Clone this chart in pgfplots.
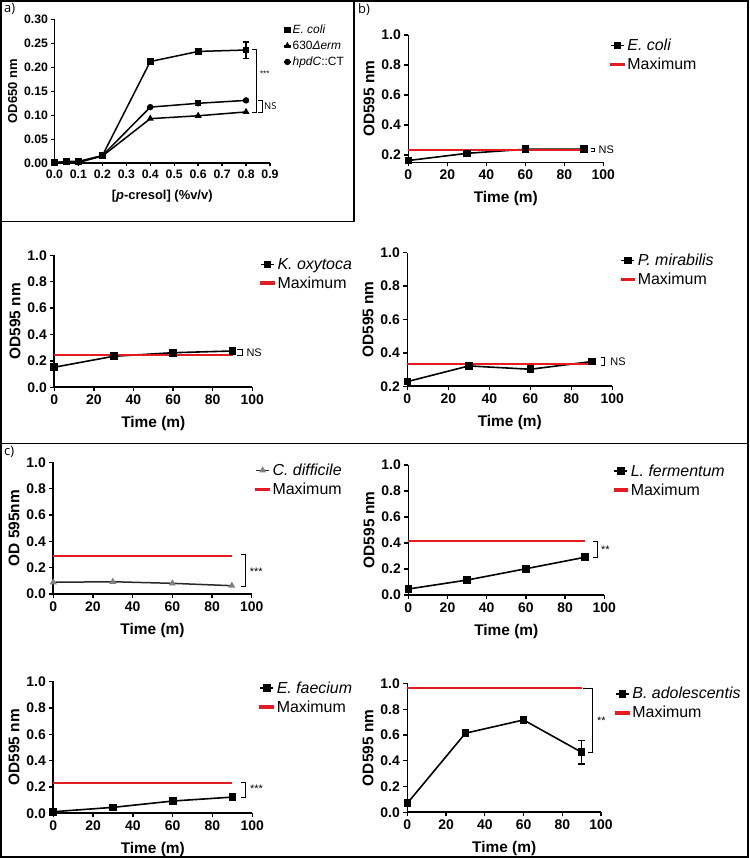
\documentclass[border=0pt]{standalone}
\usepackage{pgfplots}
\pgfplotsset{compat=1.18}
\usepackage{fontspec}
\setmainfont{Liberation Sans}
\newfontfamily\osans{Open Sans}
\definecolor{gpred}{RGB}{228,28,34}
\definecolor{gpgrey}{RGB}{40,40,40}
\tikzset{
  br/.style={line width=0.9bp, black},
  sig/.style={font=\fontsize{11}{11}\selectfont, anchor=west, inner sep=1bp},
}
\pgfplotsset{
  gp/.style={
    scale only axis, axis lines=left, axis line style={-, line width=1.6bp},
    tick align=outside, major tick length=4bp, tick style={line width=1.4bp, black},
    clip=false, /pgf/number format/assume math mode=true,
    ticklabel style={font=\bfseries\fontsize{14}{14}\selectfont},
    label style={font=\bfseries\fontsize{15.5}{16}\selectfont},
    xlabel style={yshift=-5bp},
    xmin=0, xmax=100, xtick={0,20,40,60,80,100},
    ytick={0,0.2,0.4,0.6,0.8,1.0}, ymax=1.0,
    yticklabel style={/pgf/number format/.cd, fixed, fixed zerofill, precision=1},
    legend style={draw=none, fill=none, font=\fontsize{16}{16}\selectfont, inner sep=0pt, row sep=4bp, nodes={inner sep=1bp}, anchor=west},
    legend cell align=left,
    xlabel={Time (m)}, ylabel={OD595 nm},
    every axis plot/.append style={line width=1.6bp},
    legend image code/.code={\draw[mark repeat=2,mark phase=2] plot coordinates {(0bp,0bp) (6.5bp,0bp) (13bp,0bp)};\path (14.5bp,0bp);},
  },
  sq/.style={black, mark=square*, mark size=3bp, mark options={solid}},
  mx/.style={gpred, no marks, line width=1.8bp,
    legend image code/.code={\fill[gpred] (0bp,-1bp) rectangle (13bp,1bp);\path (14.5bp,0bp);}},
}
\begin{document}
\begin{tikzpicture}
\useasboundingbox (0,0) rectangle (750bp,858bp);
% frames
\draw[line width=1.5bp] (1bp,1bp) rectangle (748bp,857bp);
\draw[line width=1.5bp] (354bp,857bp) -- (354bp,636.3bp) -- (1bp,636.3bp);
\draw[line width=1.5bp] (1bp,414.7bp) -- (748bp,414.7bp);
\node[anchor=north west, font=\osans\fontsize{13}{13}\selectfont, inner sep=0pt] at (4bp,855bp) {a)};
\node[anchor=north west, font=\osans\fontsize{13}{13}\selectfont, inner sep=0pt] at (358bp,855bp) {b)};
\node[anchor=north west, font=\osans\fontsize{13}{13}\selectfont, inner sep=0pt] at (4bp,412bp) {c)};

% ---------- panel a ----------
\begin{axis}[gp, at={(54.5bp,694.7bp)}, anchor=south west, width=215.5bp, height=144bp,
  xmin=0, xmax=0.9, ymin=0, ymax=0.30,
  xtick={0,0.1,0.2,0.3,0.4,0.5,0.6,0.7,0.8,0.9}, ytick={0,0.05,0.10,0.15,0.20,0.25,0.30},
  major tick length=3bp,
  ticklabel style={font=\bfseries\fontsize{12.3}{12.3}\selectfont},
  xticklabel style={/pgf/number format/.cd, fixed, fixed zerofill, precision=1},
  yticklabel style={/pgf/number format/.cd, fixed, fixed zerofill, precision=2},
  label style={font=\bfseries\fontsize{13}{13}\selectfont},
  xlabel style={yshift=0bp},
  xlabel={[\textit{p}-cresol] (\%v/v)}, ylabel={OD650 nm},
  legend style={font=\fontsize{12}{12}\selectfont, row sep=4bp, at={(1.06,0.815)}},
  legend image code/.code={\draw[mark repeat=2,mark phase=2] plot coordinates {(0bp,0bp) (3.5bp,0bp) (7bp,0bp)};},
  every axis plot/.append style={line width=1.5bp},
  error bars/error bar style={line width=1.3bp},
  error bars/error mark options={rotate=90, mark size=2.8bp, line width=1.3bp}]
\addplot[black, mark=square*, mark size=2.6bp, error bars/.cd, y dir=both, y explicit] coordinates {
 (0,0.001) +- (0,0) (0.05,0.004) +- (0,0.001) (0.1,0.004) +- (0,0.001) (0.2,0.016) +- (0,0.002)
 (0.4,0.212) +- (0,0.004) (0.6,0.233) +- (0,0.002) (0.8,0.236) +- (0,0.017)};
\addlegendentry{\textit{E. coli}}
\addplot[black, mark=triangle*, mark size=2.6bp] coordinates {
 (0,0.001) (0.05,0.003) (0.1,0.002) (0.2,0.015) (0.4,0.093) (0.6,0.099) (0.8,0.107)};
\addlegendentry{630\textit{Δerm}}
\addplot[black, mark=*, mark size=2.4bp, error bars/.cd, y dir=both, y explicit] coordinates {
 (0,0.001) +- (0,0) (0.05,0.003) +- (0,0) (0.1,0.002) +- (0,0) (0.2,0.016) +- (0,0)
 (0.4,0.117) +- (0,0.002) (0.6,0.125) +- (0,0.005) (0.8,0.131) +- (0,0.002)};
\addlegendentry{\textit{hpdC}::CT}
\draw[line width=0.7bp] (axis cs:0.826,0.237) -- (axis cs:0.842,0.237) -- (axis cs:0.842,0.107) -- (axis cs:0.826,0.107);
\node[font=\fontsize{8}{8}\selectfont, anchor=west, inner sep=0pt] at (axis cs:0.858,0.187) {***};
\draw[line width=0.7bp] (axis cs:0.85,0.131) -- (axis cs:0.866,0.131) -- (axis cs:0.866,0.107) -- (axis cs:0.85,0.107);
\node[font=\osans\fontsize{9.5}{9.5}\selectfont, anchor=west, inner sep=0pt] at (axis cs:0.875,0.119) {NS};
\end{axis}

% ---------- b1: E. coli ----------
\begin{axis}[gp, at={(408.3bp,695.5bp)}, anchor=south west, width=195bp, height=127.5bp,
  ymin=0.15, ytick={0.2,0.4,0.6,0.8,1.0}, legend style={at={(1.034,0.843)}}]
\addplot[sq] coordinates {(0,0.163) (30,0.211) (60,0.238) (90,0.238)};
\addlegendentry{\textit{E. coli}}
\addplot[mx] coordinates {(0,0.231) (90,0.231)};
\addlegendentry{Maximum}
\draw[br] (axis cs:93.7,0.243) -- (axis cs:95.7,0.243) -- (axis cs:95.7,0.222) -- (axis cs:93.7,0.222);
\node[sig] at (axis cs:97,0.233) {NS};
\end{axis}

% ---------- K. oxytoca ----------
\begin{axis}[gp, at={(54.3bp,470.7bp)}, anchor=south west, width=198bp, height=132bp,
  ymin=0, legend style={at={(1.039,0.858)}}]
\addplot[sq] coordinates {(0,0.152) (30,0.235) (60,0.262) (90,0.275)};
\addlegendentry{\textit{K. oxytoca}}
\addplot[mx] coordinates {(0,0.247) (90,0.247)};
\addlegendentry{Maximum}
\draw[br] (axis cs:92.3,0.288) -- (axis cs:94.8,0.288) -- (axis cs:94.8,0.238) -- (axis cs:92.3,0.238);
\node[sig] at (axis cs:96.5,0.26) {NS};
\end{axis}

% ---------- P. mirabilis ----------
\begin{axis}[gp, at={(407.3bp,471.7bp)}, anchor=south west, width=205bp, height=133.6bp,
  ymin=0.2, ytick={0.2,0.4,0.6,0.8,1.0}, legend style={at={(1.039,0.871)}}]
\addplot[sq] coordinates {(0,0.228) (30,0.322) (60,0.302) (90,0.348)};
\addlegendentry{\textit{P. mirabilis}}
\addplot[mx] coordinates {(0,0.334) (90,0.334)};
\addlegendentry{Maximum}
\draw[br] (axis cs:94.5,0.37) -- (axis cs:96.4,0.37) -- (axis cs:96.4,0.322) -- (axis cs:94.5,0.322);
\node[sig] at (axis cs:98.5,0.346) {NS};
\end{axis}

% ---------- C. difficile ----------
\begin{axis}[gp, at={(53.3bp,264bp)}, anchor=south west, width=198.4bp, height=131.7bp,
  ymin=0, ylabel={OD 595nm}, legend style={at={(1.017,0.866)}}]
\addplot[gpgrey, line width=1.5bp, mark=triangle*, mark size=2.6bp, mark options={fill=gray, draw=gray}] coordinates {(0,0.089) (30,0.093) (60,0.081) (90,0.063)};
\addlegendentry{\textit{C. difficile}}
\addplot[mx] coordinates {(0,0.29) (90,0.29)};
\addlegendentry{Maximum}
\draw[br] (axis cs:94.6,0.30) -- (axis cs:97.1,0.30) -- (axis cs:97.1,0.061) -- (axis cs:94.6,0.061);
\node[sig] at (axis cs:98.5,0.17) {***};
\end{axis}

% ---------- L. fermentum ----------
\begin{axis}[gp, at={(408.3bp,263bp)}, anchor=south west, width=196bp, height=130bp,
  ymin=0, legend style={at={(1.046,0.88)}}]
\addplot[sq] coordinates {(0,0.046) (30,0.115) (60,0.202) (90,0.29)};
\addlegendentry{\textit{L. fermentum}}
\addplot[mx] coordinates {(0,0.415) (90,0.415)};
\addlegendentry{Maximum}
\draw[br] (axis cs:94,0.415) -- (axis cs:96.6,0.415) -- (axis cs:96.6,0.285) -- (axis cs:94,0.285);
\node[sig] at (axis cs:97.8,0.35) {**};
\end{axis}

% ---------- E. faecium ----------
\begin{axis}[gp, at={(53.3bp,44.7bp)}, anchor=south west, width=199bp, height=131.8bp,
  ymin=0, legend style={at={(1.035,0.878)}}]
\addplot[sq] coordinates {(0,0.012) (30,0.045) (60,0.093) (90,0.123)};
\addlegendentry{\textit{E. faecium}}
\addplot[mx] coordinates {(0,0.232) (90,0.232)};
\addlegendentry{Maximum}
\draw[br] (axis cs:94.3,0.232) -- (axis cs:96.8,0.232) -- (axis cs:96.8,0.12) -- (axis cs:94.3,0.12);
\node[sig] at (axis cs:98.3,0.185) {***};
\end{axis}

% ---------- B. adolescentis ----------
\begin{axis}[gp, at={(407.3bp,45.7bp)}, anchor=south west, width=193.7bp, height=128.8bp,
  ymin=0, legend style={at={(1.072,0.846)}},
  error bars/error bar style={line width=1.4bp},
  error bars/error mark options={rotate=90, mark size=3.2bp, line width=1.4bp}]
\addplot[sq, error bars/.cd, y dir=both, y explicit] coordinates {
 (0,0.07) +- (0,0.005) (30,0.614) +- (0,0.012) (60,0.717) +- (0,0.006) (90,0.466) +- (0,0.09)};
\addlegendentry{\textit{B. adolescentis}}
\addplot[mx] coordinates {(0,0.963) (90,0.963)};
\addlegendentry{Maximum}
\draw[br] (axis cs:90.5,0.963) -- (axis cs:95.4,0.963) -- (axis cs:95.4,0.466) -- (axis cs:93.3,0.466);
\node[sig] at (axis cs:97.4,0.71) {**};
\end{axis}
\end{tikzpicture}
\end{document}
